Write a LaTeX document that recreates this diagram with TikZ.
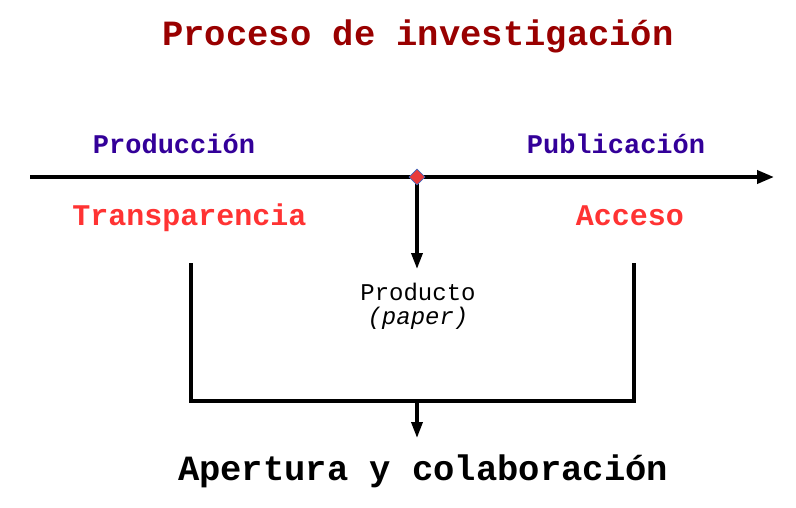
\documentclass[tikz,border=0pt]{standalone}
\usepackage{fontspec}
\setmonofont{Liberation Mono}
\usetikzlibrary{arrows.meta,shapes.geometric}
\definecolor{titlered}{HTML}{990000}
\definecolor{indigo}{HTML}{330099}
\definecolor{brightred}{HTML}{FF3333}
\definecolor{diamondred}{HTML}{E83A3A}
\definecolor{diamondblue}{HTML}{4466BB}
\tikzset{
  lbl/.style={font=\ttfamily\bfseries\fontsize{27}{30}\selectfont, text=indigo, inner sep=0pt, anchor=base},
  key/.style={font=\ttfamily\bfseries\fontsize{30}{33}\selectfont, text=brightred, inner sep=0pt, anchor=base},
  line/.style={line width=3.8pt, draw=black},
  arr/.style={line width=3.4pt, -{Triangle[length=16pt,width=11pt]}},
}
\begin{document}
\begin{tikzpicture}[x=1pt,y=1pt]
\useasboundingbox (0,0) rectangle (796,-507);
% title
\node[font=\ttfamily\bfseries\fontsize{35.5}{40}\selectfont, text=titlered, inner sep=0pt, anchor=base] (title) at (418,-45) {Proceso de investigación};
% main timeline
\coordinate (L) at (30,-177);
\coordinate (R) at (774,-177);
\draw[line width=3.8pt, -{Triangle[length=17pt,width=13pt]}] (L) -- (R);
\node[lbl] (prod) at (174,-153) {Producción};
\node[lbl] (pub) at (616,-153) {Publicación};
\node[key] (trans) at (189.5,-225) {Transparencia};
\node[key] (acc) at (630,-225) {Acceso};
% product arrow
\coordinate (pe) at (417,-269);
\draw[arr] (417,-177) -- (pe);
\node[diamond, fill=diamondred, draw=diamondblue, line width=0.6pt, minimum size=16pt, inner sep=0pt] (d) at (417,-177) {};
\node[font=\ttfamily\fontsize{24}{26}\selectfont, inner sep=0pt, anchor=base] (producto) at (418,-300) {Producto};
\node[font=\ttfamily\itshape\fontsize{24}{26}\selectfont, inner sep=0pt, anchor=base] (paper) at (418,-324) {(paper)};
% bracket
\coordinate (bl) at (191,-263);
\coordinate (bll) at (191,-401);
\coordinate (brr) at (634,-401);
\coordinate (br) at (634,-263);
\draw[line, line join=miter] (bl) -- (bll) -- (brr) -- (br);
\coordinate (ms) at (417,-401);
\coordinate (me) at (417,-438);
\draw[arr] (ms) -- (me);
\node[font=\ttfamily\bfseries\fontsize{35.5}{40}\selectfont, text=black, inner sep=0pt, anchor=base] (final) at (423,-480) {Apertura y colaboración};
\end{tikzpicture}
\end{document}
